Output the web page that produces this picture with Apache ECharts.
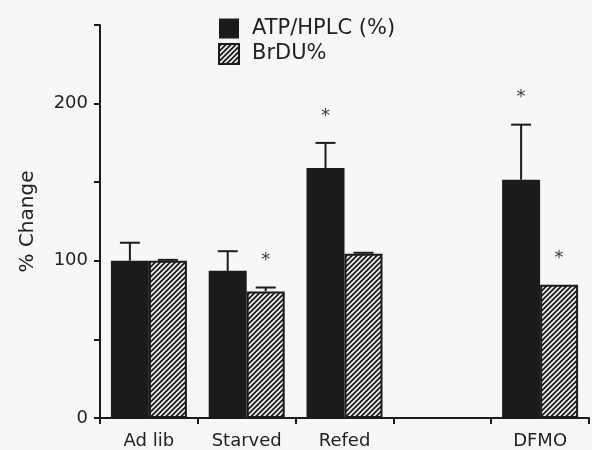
<!DOCTYPE html>
<html>
<head>
<meta charset="utf-8">
<script src="https://cdn.jsdelivr.net/npm/echarts@6/dist/echarts.min.js"></script>
<style>
html,body{margin:0;padding:0;background:#f7f7f6;}
#c{width:592px;height:450px;}
</style>
</head>
<body>
<div id="c"></div>
<script>
var categories = ['Ad lib', 'Starved', 'Refed', '', 'DFMO'];
var atpValues = [100, 93.6, 159, null, 151.6];
var atpErrors = [11.5, 12.5, 16, null, 35];
var atpSignificant = [false, false, true, false, true];
var brduValues = [100, 80.5, 104.5, null, 84.7];
var brduErrors = [0.6, 2.5, 0.6, null, 0];
var brduSignificant = [false, true, false, false, true];
var yTickLabels = {0: '0', 100: '100', 200: '200'};

var FONT = 'DejaVu Sans';
function makeHatch() {
  var s = 5;
  var cv = document.createElement('canvas');
  cv.width = s; cv.height = s;
  var ctx = cv.getContext('2d');
  ctx.fillStyle = '#1b1b1b';
  ctx.fillRect(0, 0, s, s);
  ctx.strokeStyle = '#f4f4f4';
  ctx.lineWidth = 1.7;
  ctx.beginPath();
  ctx.moveTo(-1, s + 1); ctx.lineTo(s + 1, -1);
  ctx.moveTo(-1, 1); ctx.lineTo(1, -1);
  ctx.moveTo(s - 1, s + 1); ctx.lineTo(s + 1, s - 1);
  ctx.stroke();
  return cv;
}
var hatch = {image: makeHatch(), repeat: 'repeat'};

var BW = 38;
function errData(vals, errs, sig) {
  var out = [];
  for (var i = 0; i < vals.length; i++) {
    if (vals[i] == null) continue;
    out.push([i, vals[i], errs[i], sig[i] ? 1 : 0]);
  }
  return out;
}
function errRender(offset) {
  return function (params, api) {
    var i = api.value(0), v = api.value(1), e = api.value(2), s = api.value(3);
    var base = api.coord([i, v]);
    var top = api.coord([i, v + e]);
    var x = base[0] + offset;
    var children = [];
    if (e > 0) {
      children.push({type: 'line', shape: {x1: x, y1: base[1], x2: x, y2: top[1]}, style: {stroke: '#1b1b1b', lineWidth: 2}});
      children.push({type: 'line', shape: {x1: x - 10, y1: top[1], x2: x + 10, y2: top[1]}, style: {stroke: '#1b1b1b', lineWidth: 2}});
    }
    if (s) {
      children.push({type: 'text', x: x, y: top[1] - 27, style: {text: '*', fontSize: 18, fontFamily: FONT, fill: '#3a3a3a', align: 'center', verticalAlign: 'middle'}});
    }
    return {type: 'group', children: children};
  };
}

var chart = echarts.init(document.getElementById('c'));
chart.setOption({
  backgroundColor: '#f7f7f6',
  animation: false,
  grid: {left: 100, right: 3, top: 25, bottom: 32},
  legend: {
    orient: 'vertical', left: 213, top: 13, itemWidth: 20, itemHeight: 20, itemGap: 4,
    icon: 'rect',
    textStyle: {fontSize: 21, color: '#222', fontFamily: FONT, padding: [0, 0, 0, 8]},
    data: ['ATP/HPLC (%)', 'BrDU%']
  },
  xAxis: {
    type: 'category', data: categories,
    axisLine: {lineStyle: {color: '#1b1b1b', width: 2}},
    axisTick: {show: true, length: 6, inside: false, lineStyle: {color: '#1b1b1b', width: 2}},
    axisLabel: {fontSize: 18, color: '#222', fontFamily: FONT, margin: 14}
  },
  yAxis: {
    type: 'value', min: 0, max: 250, interval: 50,
    name: '% Change', nameLocation: 'middle', nameGap: 62, nameRotate: 90,
    nameTextStyle: {fontSize: 20, color: '#222', fontFamily: FONT},
    splitLine: {show: false},
    axisLine: {show: true, lineStyle: {color: '#1b1b1b', width: 2}},
    axisTick: {show: true, length: 6, lineStyle: {color: '#1b1b1b', width: 2}},
    axisLabel: {fontSize: 18, color: '#222', fontFamily: FONT, margin: 12,
      formatter: function (v) { return yTickLabels[v] !== undefined ? yTickLabels[v] : ''; }}
  },
  series: [
    {name: 'ATP/HPLC (%)', type: 'bar', data: atpValues, barWidth: BW, barGap: '0%',
     itemStyle: {color: '#1b1b1b'}},
    {name: 'BrDU%', type: 'bar', data: brduValues, barWidth: BW, barGap: '0%',
     itemStyle: {color: hatch, borderColor: '#1b1b1b', borderWidth: 2}},
    {type: 'custom', data: errData(atpValues, atpErrors, atpSignificant), renderItem: errRender(-BW / 2), z: 5, silent: true},
    {type: 'custom', data: errData(brduValues, brduErrors, brduSignificant), renderItem: errRender(BW / 2), z: 5, silent: true}
  ]
});
</script>
</body>
</html>
